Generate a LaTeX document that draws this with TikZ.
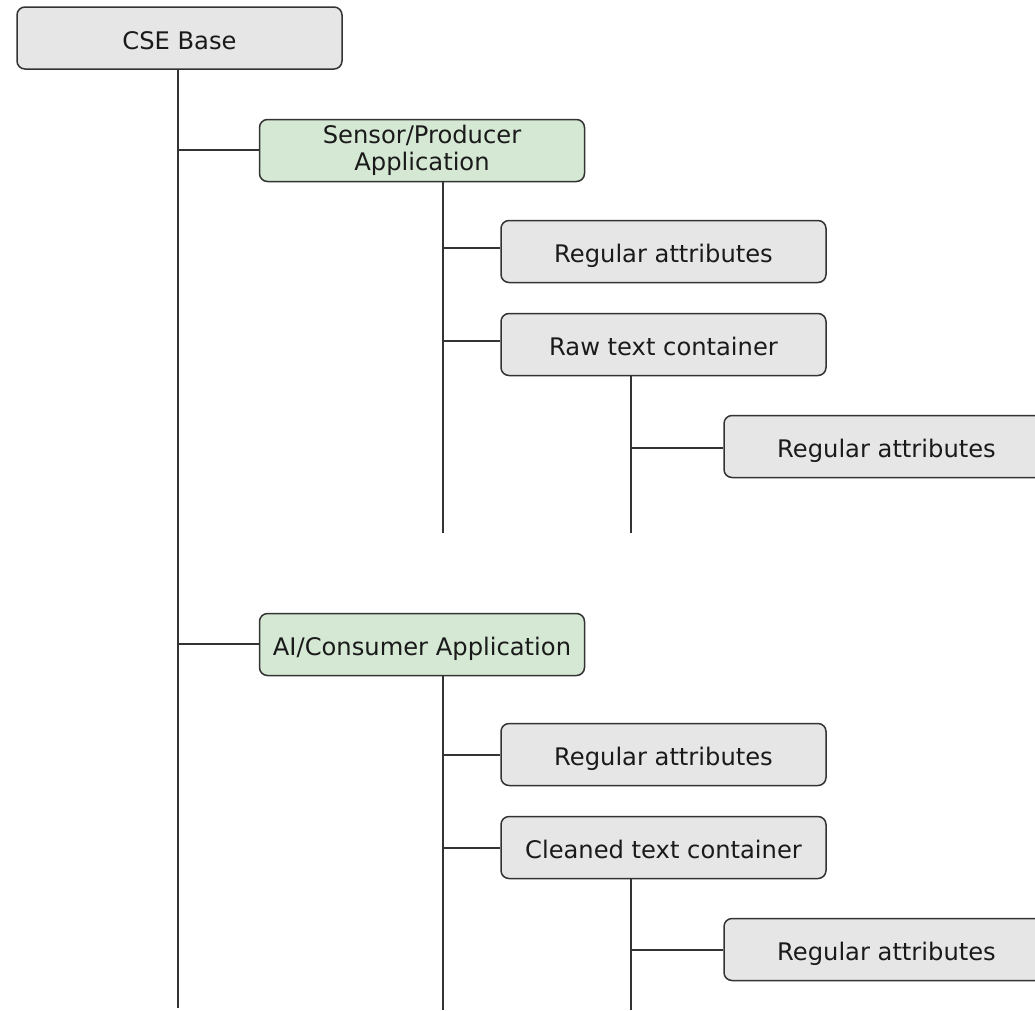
\documentclass[tikz,border=0pt]{standalone}
\usepackage{fontspec}
\setmainfont{DejaVu Sans}
\definecolor{boxgray}{HTML}{E6E6E6}
\definecolor{boxgreen}{HTML}{D5E8D4}
\definecolor{linec}{HTML}{333333}
\definecolor{textc}{HTML}{1A1A1A}
\begin{document}
\begin{tikzpicture}[x=1pt,y=-1pt,
  box/.style={draw=linec, line width=1.5pt, rounded corners=8pt, minimum width=325pt, minimum height=62pt,
    inner sep=0pt, align=center, text=textc, font=\fontsize{24.2}{27.5}\selectfont},
  oneline/.style={text height=22.7pt, text depth=0pt},
  graybox/.style={box, fill=boxgray, oneline},
  greenbox/.style={box, fill=boxgreen},
  conn/.style={draw=linec, line width=1.5pt}]
\useasboundingbox (0,0) rectangle (1035,1010);
\clip (0,0) rectangle (1035,1010);
% nodes
\node[graybox] (cse) at (179.5,38) {CSE Base};
\node[greenbox] (sensor) at (422,150.5) {Sensor/Producer\\Application};
\node[graybox] (ra1) at (663.5,251.5) {Regular attributes};
\node[graybox] (raw) at (663.5,344.5) {Raw text container};
\node[graybox] (ra2) at (886.5,446.5) {Regular attributes};
\node[greenbox, oneline] (ai) at (422,644.5) {AI/Consumer Application};
\node[graybox] (ra3) at (663.5,754.5) {Regular attributes};
\node[graybox] (clean) at (663.5,847.5) {Cleaned text container};
\node[graybox] (ra4) at (886.5,949.5) {Regular attributes};
% trunk ends
\coordinate (mend) at (178,1008);
\coordinate (s1end) at (443,533);
\coordinate (r1end) at (631,533);
\coordinate (s2end) at (443,1010);
\coordinate (r2end) at (631,1010);
% junctions
\coordinate (j1) at (178,150);
\coordinate (j2) at (178,644);
\coordinate (k1) at (443,248);
\coordinate (k2) at (443,341);
\coordinate (k3) at (631,448);
\coordinate (k4) at (443,755);
\coordinate (k5) at (443,848);
\coordinate (k6) at (631,950);
% vertical lines
\draw[conn] (mend |- cse.south) -- (mend);
\draw[conn] (s1end |- sensor.south) -- (s1end);
\draw[conn] (r1end |- raw.south) -- (r1end);
\draw[conn] (s2end |- ai.south) -- (s2end);
\draw[conn] (r2end |- clean.south) -- (r2end);
% horizontal connectors
\draw[conn] (j1) -- (j1 -| sensor.west);
\draw[conn] (j2) -- (j2 -| ai.west);
\draw[conn] (k1) -- (k1 -| ra1.west);
\draw[conn] (k2) -- (k2 -| raw.west);
\draw[conn] (k3) -- (k3 -| ra2.west);
\draw[conn] (k4) -- (k4 -| ra3.west);
\draw[conn] (k5) -- (k5 -| clean.west);
\draw[conn] (k6) -- (k6 -| ra4.west);
\end{tikzpicture}
\end{document}
